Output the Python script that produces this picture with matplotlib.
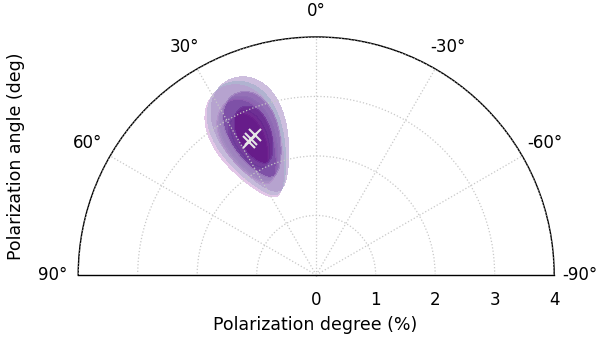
import numpy as np
import matplotlib
matplotlib.use("Agg")
import matplotlib.pyplot as plt

# best-fit polarization of each data set: degree (%) and angle (deg)
pol_degree = [2.50, 2.53, 2.57]
pol_angle = [26.7, 25.5, 23.7]
# 1-sigma errors
sig_degree = [0.51, 0.51, 0.51]
sig_angle = [6.2, 6.2, 6.2]
# contour levels in units of sigma
sigma_levels = [0, 1.0, 1.5, 2.0]

fill_colors = [
    ["#6a1088", "#9048a8", "#d0a0d8"],   # set 1
    ["#502888", "#3c6898", "#88d0c8"],   # set 2
    ["#5a0880", "#7440a0", "#ac94c8"],   # set 3
]

r_ticks = [0, 1, 2, 3, 4]
theta_ticks = [-90, -60, -30, 0, 30, 60, 90]
theta_labels = ["-90°", "-60°", "-30°", "0°", "30°", "60°", "90°"]


def main():
    fig = plt.figure(figsize=(5.96, 3.39), dpi=100)
    # half disc is fitted into a square box, so the box is taller than the figure
    ax = fig.add_axes([0.131, -0.162, 0.799, 1.404], projection="polar")
    ax.set_theta_zero_location("N")
    ax.set_thetamin(-90)
    ax.set_thetamax(90)
    ax.set_rlim(0, 4)

    # grid over polar angle / degree
    th = np.linspace(np.radians(0), np.radians(60), 400)
    rr = np.linspace(0.5, 4.0, 400)
    TH, RR = np.meshgrid(th, rr)

    for i in [1, 0, 2]:
        d = np.sqrt(((np.degrees(TH) - pol_angle[i]) / sig_angle[i]) ** 2
                    + ((RR - pol_degree[i]) / sig_degree[i]) ** 2)
        ax.contourf(TH, RR, d, levels=sigma_levels,
                    colors=fill_colors[i], alpha=0.6, zorder=1)

    for i in range(len(pol_degree)):
        ax.plot(np.radians(pol_angle[i]), pol_degree[i], "x",
                color="#e6e6e6", ms=8, mew=1.5, zorder=3)

    ax.set_thetagrids(theta_ticks, theta_labels, fontsize=12)
    ax.tick_params(axis="x", pad=8)
    ax.set_rticks(r_ticks)
    ax.tick_params(axis="y", labelsize=12, pad=8)
    ax.grid(True, color="#c8c8c8", linestyle=":", linewidth=0.9, zorder=2)
    ax.set_axisbelow(False)
    for sp in ax.spines.values():
        sp.set_color("black")
        sp.set_linewidth(1.0)

    fig.text(0.529, 0.04, "Polarization degree (%)", fontsize=12.5,
             ha="center", va="center")
    fig.text(0.027, 0.54, "Polarization angle (deg)", fontsize=12.5,
             ha="center", va="center", rotation=90)

    fig.savefig("out.png", dpi=100)


if __name__ == "__main__":
    main()
